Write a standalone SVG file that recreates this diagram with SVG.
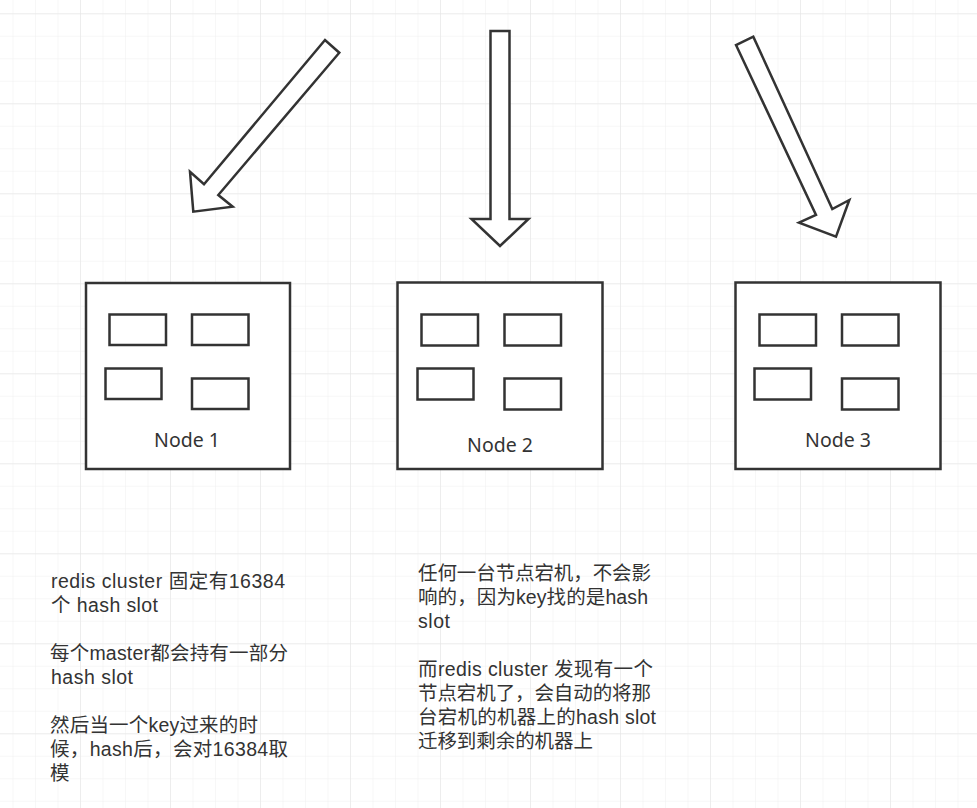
<svg xmlns="http://www.w3.org/2000/svg" width="977" height="808" viewBox="0 0 977 808">
<defs>
<pattern id="minor" x="-10" y="13.3" width="22.5" height="22.5" patternUnits="userSpaceOnUse">
<path d="M0 0H22.5M0 0V22.5" fill="none" stroke="#f0f0f0" stroke-width="1"/>
</pattern>
<pattern id="major" x="-10" y="13.3" width="90" height="90" patternUnits="userSpaceOnUse">
<path d="M0 0H90M0 0V90" fill="none" stroke="#e4e4e4" stroke-width="1"/>
</pattern>
<style>
.box{fill:#fff;stroke:#333;stroke-width:2.5}
.slot{fill:#fff;stroke:#333;stroke-width:2.5}
.arrow{fill:#fff;stroke:#333;stroke-width:2.5;stroke-linejoin:miter}
.lbl{font-family:"Noto Sans","Noto Sans CJK SC",sans-serif;font-size:19.5px;fill:#333;text-anchor:middle}
.txt{font-family:"Liberation Sans","Noto Sans CJK SC",sans-serif;font-size:19.5px;fill:#333}
</style>
</defs>
<rect width="977" height="808" fill="#fff"/>
<rect width="977" height="808" fill="url(#minor)"/>
<rect width="977" height="808" fill="url(#major)"/>

<g id="connectors">
<polygon class="arrow" points="325,40 204,184.3 190,171.7 193.3,211.7 232.7,206.7 218.3,195 339.3,52.7"/>
<polygon class="arrow" points="490.5,31 509.5,31 509.5,219 528.5,219 500,246 471.5,219 490.5,219"/>
<polygon class="arrow" points="736,45 816,215 799,222.7 836,236.7 849.3,200 832.3,209 753.3,36.7"/>
</g>

<g id="node1">
<rect class="box" x="86" y="283" width="204" height="186"/>
<rect class="slot" x="109.5" y="314.5" width="56.5" height="30.5"/>
<rect class="slot" x="192" y="314.5" width="56.5" height="30.5"/>
<rect class="slot" x="105.5" y="368.5" width="56" height="30.5"/>
<rect class="slot" x="192" y="378.5" width="56.5" height="30.5"/>
<text class="lbl" x="187" y="447">Node 1</text>
</g>

<g id="node2">
<rect class="box" x="397.5" y="282.5" width="205" height="186.5"/>
<rect class="slot" x="421.5" y="314.5" width="56.5" height="31"/>
<rect class="slot" x="504.5" y="314.5" width="56.5" height="31"/>
<rect class="slot" x="417.5" y="368.5" width="56" height="31"/>
<rect class="slot" x="504.5" y="378.5" width="56.5" height="31"/>
<text class="lbl" x="500" y="452">Node 2</text>
</g>

<g id="node3">
<rect class="box" x="735.5" y="282.5" width="205" height="186.5"/>
<rect class="slot" x="759.5" y="314.5" width="56.5" height="31"/>
<rect class="slot" x="842" y="314.5" width="56.5" height="31"/>
<rect class="slot" x="754.5" y="368.5" width="56.5" height="31"/>
<rect class="slot" x="842" y="378.5" width="56.5" height="31"/>
<text class="lbl" x="838" y="447">Node 3</text>
</g>

<g id="note-left" class="txt">
<text x="51" y="588" textLength="234">redis cluster 固定有16384</text>
<text x="51" y="612" textLength="107">个 hash slot</text>
<text x="50" y="660" textLength="238">每个master都会持有一部分</text>
<text x="51" y="684" textLength="82">hash slot</text>
<text x="50" y="732" textLength="208">然后当一个key过来的时</text>
<text x="50" y="756" textLength="238">候，hash后，会对16384取</text>
<text x="50" y="780">模</text>
</g>

<g id="note-right" class="txt">
<text x="418" y="580" textLength="233">任何一台节点宕机，不会影</text>
<text x="418" y="604" textLength="230">响的，因为key找的是hash</text>
<text x="418" y="628" textLength="32">slot</text>
<text x="418" y="676" textLength="235">而redis cluster 发现有一个</text>
<text x="418" y="700" textLength="233">节点宕机了，会自动的将那</text>
<text x="418" y="724" textLength="238">台宕机的机器上的hash slot</text>
<text x="418" y="748" textLength="175">迁移到剩余的机器上</text>
</g>
</svg>
